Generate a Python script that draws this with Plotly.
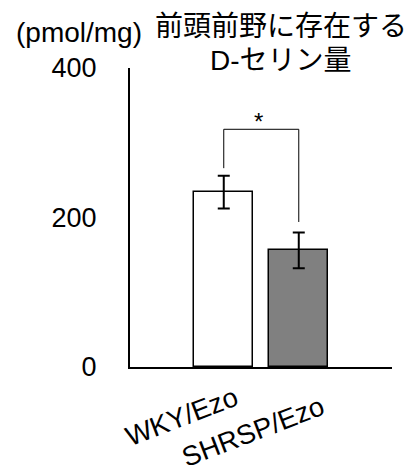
import plotly.graph_objects as go

categories = ["WKY/Ezo", "SHRSP/Ezo"]
values = [234, 156]
errors = [22, 24]
bar_colors = ["#ffffff", "#808080"]
y_ticks = [0, 200, 400]
bracket_y = [266, 318, 318, 194]
title_lines = ["前頭前野に存在する", "D-セリン量"]
unit_label = "(pmol/mg)"
sig_label = "*"

FONT = "Arial, Liberation Sans, Noto Sans CJK JP, sans-serif"
xpos = list(range(len(categories)))

# plot area in page pixels: x 130..392, y 68..367 (page has 8px body margin)
PL, PR, PT, PB = 130, 392, 68, 367
PW, PH = PR - PL, PB - PT

def px(xp):
    return (xp - PL) / PW

def py(yp):
    return (PB - yp) / PH

fig = go.Figure()
fig.add_trace(go.Bar(
    x=xpos, y=values, width=0.787,
    marker=dict(color=bar_colors, line=dict(color="black", width=1.5)),
    error_y=dict(type="data", array=errors, visible=True, color="black", thickness=2, width=6),
    showlegend=False,
))
fig.add_trace(go.Scatter(
    x=[xpos[0], xpos[0], xpos[1], xpos[1]], y=bracket_y,
    mode="lines", line=dict(color="black", width=1), showlegend=False, hoverinfo="skip",
))
fig.add_annotation(x=(xpos[0] + xpos[1]) / 2, y=bracket_y[1], yshift=8, xshift=-3, text=sig_label,
                   xanchor="center", yanchor="middle",
                   showarrow=False, font=dict(size=24, color="black", family=FONT))

fig.add_annotation(xref="paper", yref="paper", x=px(79), y=py(32), text=unit_label,
                   xanchor="center", yanchor="middle",
                   showarrow=False, font=dict(size=28, color="black", family=FONT))
fig.add_annotation(xref="paper", yref="paper", x=px(281), y=py(26), text=title_lines[0],
                   xanchor="center", yanchor="middle",
                   showarrow=False, font=dict(size=28, color="black", family=FONT))
fig.add_annotation(xref="paper", yref="paper", x=px(281), y=py(60), text=title_lines[1],
                   xanchor="center", yanchor="middle",
                   showarrow=False, font=dict(size=28, color="black", family=FONT))

# rotated category labels
label_offsets = [(-42, 417), (-46, 431)]
for xi, lab, (dx, yc) in zip(xpos, categories, label_offsets):
    fig.add_annotation(x=xi, xref="x", yref="paper", y=py(yc), xshift=dx, text=lab,
                       textangle=-21, showarrow=False, xanchor="center", yanchor="middle",
                       font=dict(size=27.5, color="black", family=FONT))

fig.update_xaxes(
    range=[-1.25, 2.243], tickmode="array", tickvals=xpos, ticktext=categories,
    showticklabels=False, showline=True, linecolor="black", linewidth=2, ticks="",
    showgrid=False, zeroline=False, automargin=False,
)
fig.update_yaxes(
    range=[0, 400], tickmode="array", tickvals=y_ticks, showline=True, linecolor="black",
    linewidth=2, ticks="", showgrid=False, zeroline=False, ticklabelstandoff=26, automargin=False,
    tickfont=dict(size=27, color="black", family=FONT),
)
fig.update_layout(
    width=408, height=466, margin=dict(l=PL - 8, r=408 + 8 - PR, t=PT - 8, b=466 + 8 - PB),
    plot_bgcolor="white", paper_bgcolor="white", bargap=0,
)
fig.write_html("out.html")
